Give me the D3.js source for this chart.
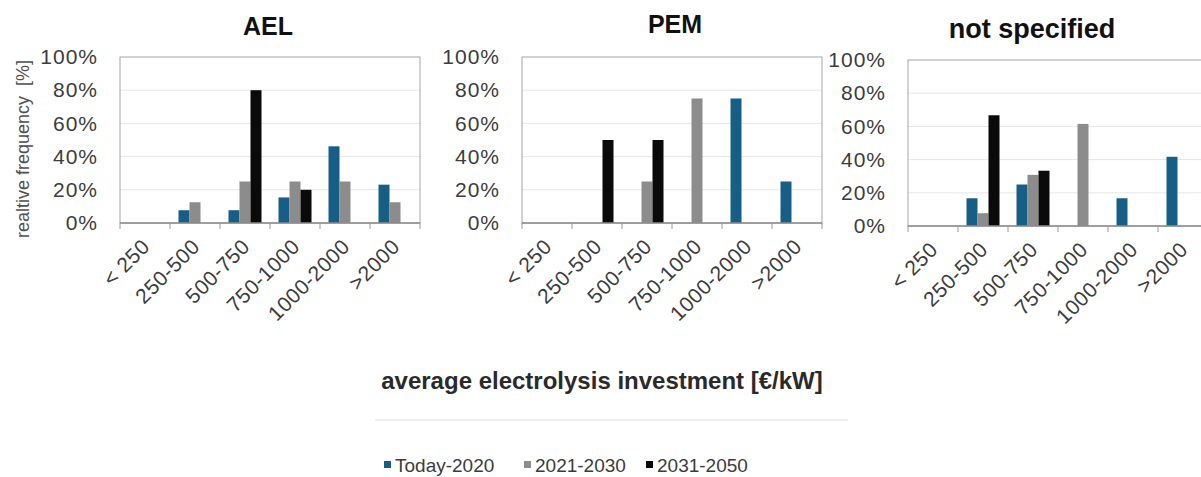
<!DOCTYPE html>
<html>
<head>
<meta charset="utf-8">
<script src="https://cdn.jsdelivr.net/npm/d3@7"></script>
<style>
  html, body { margin: 0; padding: 0; background: #fff; }
  svg { display: block; font-family: "Liberation Sans", Arial, sans-serif; }
</style>
</head>
<body>
<svg id="chart" width="1201" height="477"></svg>
<script>
// ---- data ----
const categories = ["< 250", "250-500", "500-750", "750-1000", "1000-2000", ">2000"];
const seriesNames = ["Today-2020", "2021-2030", "2031-2050"];
const panelTitles = ["AEL", "PEM", "not specified"];
const yTicks = [0, 20, 40, 60, 80, 100];

const aelToday = [0, 7.7, 7.7, 15.4, 46.2, 23.1];
const ael2030  = [0, 12.5, 25, 25, 25, 12.5];
const ael2050  = [0, 0, 80, 20, 0, 0];

const pemToday = [0, 0, 0, 0, 75, 25];
const pem2030  = [0, 0, 25, 75, 0, 0];
const pem2050  = [0, 50, 50, 0, 0, 0];

const nsToday = [0, 16.7, 25, 0, 16.7, 41.7];
const ns2030  = [0, 7.7, 30.8, 61.5, 0, 0];
const ns2050  = [0, 66.7, 33.3, 0, 0, 0];

const panelData = [
  [aelToday, ael2030, ael2050],
  [pemToday, pem2030, pem2050],
  [nsToday, ns2030, ns2050]
];

// ---- styles / layout ----
const colors = ["#165e86", "#8c8c8c", "#0a0a0a"];
const panelLayout = [
  { left: 120, top: 57, titleX: 268, titleY: 35 },
  { left: 522, top: 57, titleX: 675, titleY: 33 },
  { left: 908, top: 60, titleX: 1032, titleY: 38 }
];
const plotW = 300, plotH = 166;

const svg = d3.select("#chart");

panelLayout.forEach((lay, pi) => {
  const g = svg.append("g").attr("transform", `translate(${lay.left},${lay.top})`);
  const x = d3.scaleBand().domain(categories).range([0, plotW]).padding(0);
  const xs = d3.scaleBand().domain(seriesNames).range([8.5, x.bandwidth() - 8.5]).padding(0);
  const y = d3.scaleLinear().domain([0, 100]).range([plotH, 0]);

  // gridlines
  g.append("g").selectAll("line").data(yTicks.filter(t => t > 0 && t < 100)).join("line")
    .attr("x1", 0).attr("x2", plotW)
    .attr("y1", d => y(d)).attr("y2", d => y(d))
    .attr("stroke", "#e6e6e6").attr("stroke-width", 1);

  // frame
  g.append("rect").attr("x", 0).attr("y", 0).attr("width", plotW).attr("height", plotH)
    .attr("fill", "none").attr("stroke", "#a6a6a6").attr("stroke-width", 1);

  // bars
  const rows = [];
  panelData[pi].forEach((vals, si) => {
    vals.forEach((v, ci) => rows.push({ cat: categories[ci], s: seriesNames[si], si, v }));
  });
  g.append("g").selectAll("rect").data(rows.filter(d => d.v > 0)).join("rect")
    .attr("x", d => x(d.cat) + xs(d.s))
    .attr("width", xs.bandwidth())
    .attr("y", d => y(d.v))
    .attr("height", d => y(0) - y(d.v))
    .attr("fill", d => colors[d.si]);

  // y axis labels
  const ya = g.append("g").call(
    d3.axisLeft(y).tickValues(yTicks).tickFormat(d => d + "%").tickSize(0).tickPadding(22)
  );
  ya.select(".domain").remove();
  ya.selectAll("text").attr("font-size", 21).attr("letter-spacing", 1).attr("fill", "#3c3c3c")
    .attr("font-family", "Liberation Sans, Arial, sans-serif");

  // x axis: ticks at boundaries
  const xa = g.append("g").attr("transform", `translate(0,${plotH})`);
  xa.append("line").attr("x1", 0).attr("x2", plotW).attr("y1", 0).attr("y2", 0)
    .attr("stroke", "#8c8c8c").attr("stroke-width", 1.5);
  const bounds = categories.map(c => x(c)).concat([plotW]);
  xa.selectAll("line.tk").data(bounds).join("line").attr("class", "tk")
    .attr("x1", d => d).attr("x2", d => d).attr("y1", 0).attr("y2", 6)
    .attr("stroke", "#9a9a9a").attr("stroke-width", 1);
  xa.selectAll("text").data(categories).join("text")
    .attr("transform", d => `translate(${x(d) + x.bandwidth() / 2 + 6},${25}) rotate(-45)`)
    .attr("text-anchor", "end")
    .attr("font-size", 21).attr("letter-spacing", 0.5).attr("fill", "#3c3c3c")
    .text(d => d);

  // title
  svg.append("text").attr("x", lay.titleX).attr("y", lay.titleY)
    .attr("text-anchor", "middle").attr("font-size", pi === 2 ? 27 : 25).attr("font-weight", "bold")
    .attr("fill", "#111").text(panelTitles[pi]);
});

// y-axis title
svg.append("text")
  .attr("transform", "translate(29,149) rotate(-90)")
  .attr("text-anchor", "middle").attr("font-size", 18).attr("fill", "#505050")
  .attr("xml:space", "preserve")
  .text("realtive frequency\u00a0\u00a0[%]");

// x-axis title
svg.append("text").attr("x", 602).attr("y", 389)
  .attr("text-anchor", "middle").attr("font-size", 24).attr("font-weight", "bold")
  .attr("fill", "#2a2a2a").text("average electrolysis investment [€/kW]");

// separator
svg.append("line").attr("x1", 375).attr("x2", 848).attr("y1", 420).attr("y2", 420)
  .attr("stroke", "#e8e8e8").attr("stroke-width", 1.5);

// legend
const legendX = [384, 524, 646];
const lg = svg.append("g").selectAll("g").data(seriesNames).join("g")
  .attr("transform", (d, i) => `translate(${legendX[i]},465)`);
lg.append("rect").attr("x", 0).attr("y", -4).attr("width", 7).attr("height", 7)
  .attr("fill", (d, i) => colors[i]);
lg.append("text").attr("x", 11).attr("y", 7).attr("font-size", 19).attr("fill", "#3c3c3c")
  .text(d => d);
</script>
</body>
</html>
